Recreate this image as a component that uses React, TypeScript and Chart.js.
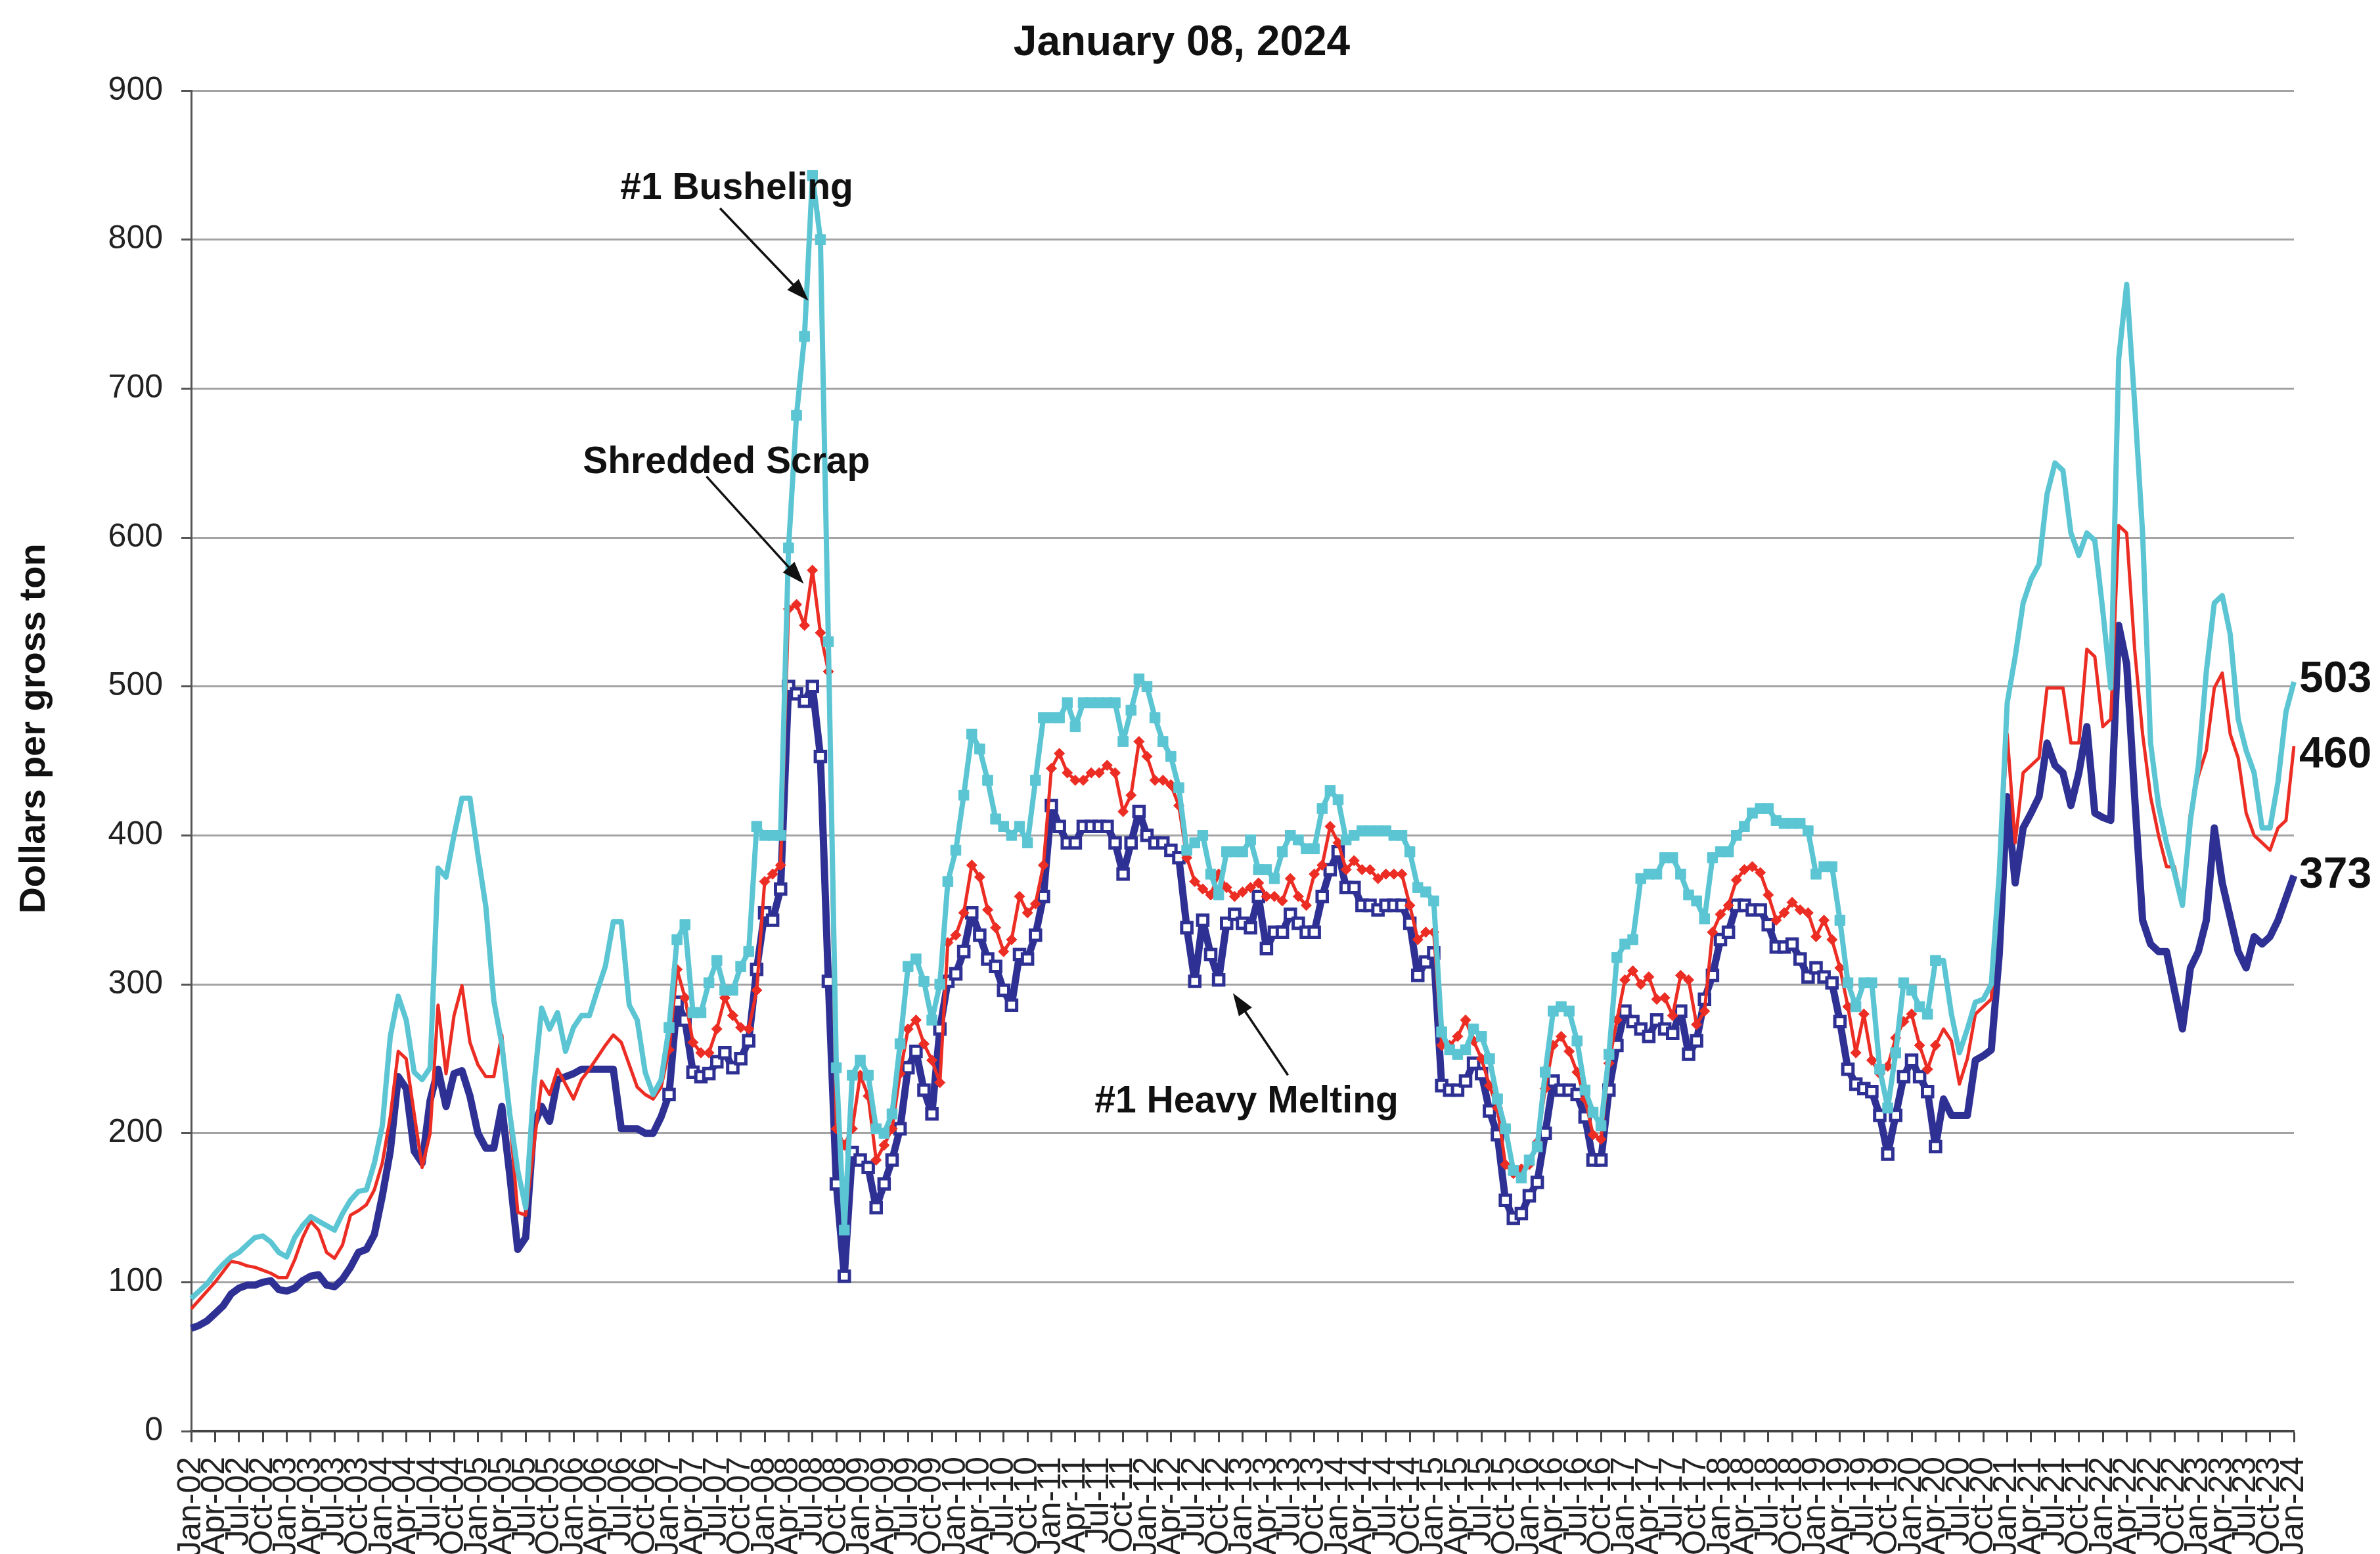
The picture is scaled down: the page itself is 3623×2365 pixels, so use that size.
import React, { useEffect, useRef } from 'react';
import { Chart, registerables } from 'chart.js';

Chart.register(...registerables);

const TITLE = 'January 08, 2024';
const Y_TITLE = 'Dollars per gross ton';
const FONT = '"Liberation Sans", Arial, Helvetica, sans-serif';

const MONTH_NAMES = ['Jan', 'Feb', 'Mar', 'Apr', 'May', 'Jun', 'Jul', 'Aug', 'Sep', 'Oct', 'Nov', 'Dec'];
const YEARS = ['02', '03', '04', '05', '06', '07', '08', '09', '10', '11', '12', '13', '14', '15', '16', '17', '18', '19', '20', '21', '22', '23'];
const LAST_LABEL = 'Jan-24';
const MONTHS: string[] = [];
YEARS.forEach((yy) => MONTH_NAMES.forEach((mm) => MONTHS.push(`${mm}-${yy}`)));
MONTHS.push(LAST_LABEL);

// #1 Heavy Melting, monthly, Jan-02 .. Jan-24
const HEAVY_MELTING = [
  69, 71, 74, 79, 84, 92, 96, 98, 98, 100, 101, 95,
  94, 96, 101, 104, 105, 98, 97, 102, 110, 120, 122, 132,
  158, 188, 238, 230, 188, 180, 222, 243, 218, 240, 242, 225,
  200, 190, 190, 218, 172, 122, 130, 205, 218, 208, 236, 238,
  240, 243, 243, 243, 243, 243, 203, 203, 203, 200, 200, 211,
  226, 288, 276, 241, 238, 240, 248, 254, 244, 250, 262, 310,
  348, 343, 364, 500, 495, 490, 500, 453, 302, 166, 104, 187,
  182, 177, 150, 166, 182, 203, 244, 255, 229, 213, 270, 302,
  307, 322, 348, 333, 317, 312, 296, 286, 320, 317, 333, 359,
  420, 406, 395, 395, 406, 406, 406, 406, 395, 374, 395, 416,
  400, 395, 395, 390, 385, 338, 302, 343, 320, 303, 341, 347,
  341, 338, 359, 324, 335, 335, 347, 341, 335, 335, 359, 377,
  389, 365, 365, 353, 353, 350, 353, 353, 353, 341, 306, 315,
  321, 232, 229, 229, 235, 247, 240, 215, 199, 155, 143, 146,
  158, 167, 200, 235, 229, 229, 226, 211, 182, 182, 229, 259,
  282, 275, 270, 265, 276, 270, 267, 282, 253, 262, 290, 306,
  330, 335, 353, 353, 350, 350, 340, 325, 325, 327, 317, 305,
  311, 305, 301, 275, 243, 233, 230, 228, 212, 186, 212, 238,
  249, 238, 228, 191, 223, 212, 212, 212, 249, 252, 256, 320,
  426, 368, 405, 415, 426, 462, 447, 442, 420, 442, 473, 415,
  412, 410, 541, 515, 426, 343, 327, 322, 322, 296, 270, 311,
  322, 343, 405, 368, 345, 322, 311, 332, 327, 332, 343, 358,
  373,
];

// Shredded Scrap
const SHREDDED = [
  82, 88, 94, 100, 107, 114, 113, 111, 110, 108, 106, 103,
  103, 115, 130, 141, 135, 120, 116, 125, 145, 148, 152, 162,
  180, 211, 255, 250, 213, 177, 200, 286, 240, 279, 299, 261,
  246, 238, 238, 266, 211, 147, 145, 190, 235, 226, 243, 233,
  223, 236, 243, 251, 259, 266, 261, 246, 231, 226, 223, 231,
  256, 310, 291, 261, 254, 254, 270, 291, 279, 271, 270, 296,
  369, 374, 380, 552, 555, 541, 578, 536, 510, 203, 192, 203,
  239, 225, 182, 192, 203, 240, 270, 276, 260, 249, 234, 328,
  333, 348, 380, 372, 350, 338, 322, 330, 359, 348, 354, 380,
  445, 455, 442, 437, 437, 442, 442, 447, 442, 416, 427, 463,
  453, 437, 437, 434, 420, 385, 369, 364, 360, 374, 365, 359,
  362, 365, 368, 359, 359, 356, 371, 359, 353, 374, 380, 406,
  395, 377, 383, 377, 377, 371, 374, 374, 374, 353, 330, 335,
  335, 259, 259, 265, 276, 262, 250, 232, 217, 179, 173, 176,
  179, 194, 230, 259, 265, 255, 241, 223, 199, 196, 247, 276,
  303, 309, 300, 305, 290, 291, 279, 306, 303, 273, 282, 335,
  347, 353, 370, 377, 379, 375, 360, 343, 348, 355, 350, 348,
  332, 343, 330, 311, 285, 254, 280, 249, 240, 245, 264, 275,
  280, 259, 243, 259, 270, 262, 233, 250, 280, 285, 290, 374,
  468, 395, 442, 447, 452, 499, 499, 499, 462, 462, 525, 520,
  473, 478, 608, 603, 525, 468, 426, 400, 379, 379, 353, 415,
  440, 457, 499, 509, 468, 452, 415, 400, 395, 390, 405, 410,
  460,
];

// #1 Busheling
const BUSHELING = [
  89, 94, 99, 106, 112, 117, 120, 125, 130, 131, 127, 120,
  117, 130, 138, 144, 141, 138, 135, 146, 155, 161, 162, 180,
  205, 265, 292, 276, 241, 236, 244, 378, 372, 400, 425, 425,
  387, 352, 289, 260, 213, 175, 150, 230, 284, 270, 281, 255,
  271, 279, 279, 296, 312, 342, 342, 286, 276, 241, 226, 236,
  271, 330, 340, 281, 281, 301, 316, 296, 296, 312, 322, 406,
  400, 400, 400, 593, 682, 735, 843, 800, 530, 244, 135, 239,
  249, 239, 203, 200, 213, 260, 312, 317, 302, 276, 300, 369,
  390, 427, 468, 458, 437, 411, 406, 400, 406, 395, 437, 479,
  479, 479, 489, 473, 489, 489, 489, 489, 489, 463, 484, 505,
  500, 479, 463, 453, 432, 390, 395, 400, 374, 360, 389, 389,
  389, 397, 377, 377, 371, 389, 400, 397, 391, 391, 418, 430,
  424, 397, 400, 403, 403, 403, 403, 400, 400, 389, 365, 362,
  356, 268, 256, 253, 256, 270, 265, 250, 223, 203, 175, 170,
  182, 191, 241, 282, 285, 282, 262, 229, 214, 205, 253, 318,
  327, 330, 371, 374, 374, 385, 385, 374, 360, 356, 344, 385,
  389, 389, 400, 406, 415, 418, 418, 410, 408, 408, 408, 403,
  374, 379, 379, 343, 301, 285, 301, 301, 243, 217, 254, 301,
  296, 285, 280, 316, 316, 280, 254, 270, 288, 290, 300, 374,
  489, 520, 556, 572, 582, 629, 650, 645, 603, 588, 603, 598,
  551, 499, 720, 770, 690, 603, 462, 420, 395, 375, 353, 410,
  447, 510, 556, 561, 535, 478, 457, 442, 405, 405, 436, 483,
  503,
];

const Y_MIN = 0;
const Y_MAX = 900;
const Y_STEP = 100;

// months (index range) drawn with markers
const MARKER_FROM = 60;
const MARKER_TO = 219;

// annotation anchors in data units: [month index, value]
const ANNOTATIONS = [
  { text: '#1 Busheling', at: [68.5, 834], from: [66.4, 821], to: [77.5, 759] },
  { text: 'Shredded Scrap', at: [67.2, 650], from: [64.7, 641], to: [76.9, 569] },
  { text: '#1 Heavy Melting', at: [132.5, 221], from: [137.7, 239], to: [130.8, 294] },
];

const BLUE = '#2E3193';
const RED = '#EC2D24';
const CYAN = '#5BC5D3';

const overlayPlugin = {
  id: 'overlay',
  afterDatasetsDraw(chart: any) {
    const { ctx, chartArea, scales } = chart;
    const xs = scales.x;
    const ys = scales.y;
    ctx.save();
    ctx.fillStyle = '#111';
    ctx.textBaseline = 'middle';

    // title
    ctx.textAlign = 'center';
    ctx.font = `bold 64px ${FONT}`;
    ctx.fillText(TITLE, 1799, 66);

    // y-axis title
    ctx.save();
    ctx.translate(53, 1109);
    ctx.rotate(-Math.PI / 2);
    ctx.font = `bold 56px ${FONT}`;
    ctx.fillText(Y_TITLE, 0, 0);
    ctx.restore();

    // annotations with arrows
    ctx.font = `bold 57px ${FONT}`;
    ANNOTATIONS.forEach((a) => {
      const tx = xs.getPixelForValue(a.at[0]);
      const ty = ys.getPixelForValue(a.at[1]);
      ctx.fillStyle = '#111';
      ctx.fillText(a.text, tx, ty);
      const fx = xs.getPixelForValue(a.from[0]);
      const fy = ys.getPixelForValue(a.from[1]);
      const px = xs.getPixelForValue(a.to[0]);
      const py = ys.getPixelForValue(a.to[1]);
      const ang = Math.atan2(py - fy, px - fx);
      const hl = 34;
      const hw = 12;
      ctx.strokeStyle = '#111';
      ctx.lineWidth = 3.5;
      ctx.beginPath();
      ctx.moveTo(fx, fy);
      ctx.lineTo(px - Math.cos(ang) * hl * 0.8, py - Math.sin(ang) * hl * 0.8);
      ctx.stroke();
      ctx.beginPath();
      ctx.moveTo(px, py);
      ctx.lineTo(px - Math.cos(ang) * hl + Math.sin(ang) * hw, py - Math.sin(ang) * hl - Math.cos(ang) * hw);
      ctx.lineTo(px - Math.cos(ang) * hl - Math.sin(ang) * hw, py - Math.sin(ang) * hl + Math.cos(ang) * hw);
      ctx.closePath();
      ctx.fill();
    });

    // end value labels
    ctx.textAlign = 'left';
    ctx.font = `bold 66px ${FONT}`;
    const ends = [
      { v: BUSHELING[BUSHELING.length - 1], dy: -3 },
      { v: SHREDDED[SHREDDED.length - 1], dy: 14 },
      { v: HEAVY_MELTING[HEAVY_MELTING.length - 1], dy: 0 },
    ];
    ends.forEach((e) => {
      ctx.fillText(String(e.v), chartArea.right + 8, ys.getPixelForValue(e.v) + e.dy);
    });
    ctx.restore();
  },
};

const inRange = (ctx: any) => ctx.dataIndex >= MARKER_FROM && ctx.dataIndex <= MARKER_TO;

export default function App() {
  const ref = useRef<HTMLCanvasElement>(null);

  useEffect(() => {
    if (!ref.current) return;
    const chart = new Chart(ref.current, {
      type: 'line',
      data: {
        labels: MONTHS,
        datasets: [
          {
            label: '#1 Busheling',
            data: BUSHELING,
            borderColor: CYAN,
            borderWidth: 8,
            pointStyle: 'rect',
            pointRadius: (c: any) => (inRange(c) ? 11 : 0),
            pointBackgroundColor: CYAN,
            pointBorderColor: CYAN,
            pointBorderWidth: 1,
            tension: 0,
            order: 0,
            borderJoinStyle: 'round',
          },
          {
            label: 'Shredded Scrap',
            data: SHREDDED,
            borderColor: RED,
            borderWidth: 5,
            pointStyle: 'rectRot',
            pointRadius: (c: any) => (inRange(c) ? 8 : 0),
            pointBackgroundColor: RED,
            pointBorderColor: RED,
            pointBorderWidth: 1,
            tension: 0,
            order: 1,
            borderJoinStyle: 'round',
          },
          {
            label: '#1 Heavy Melting',
            data: HEAVY_MELTING,
            borderColor: BLUE,
            borderWidth: 11,
            pointStyle: 'rect',
            pointRadius: (c: any) => (inRange(c) ? 11 : 0),
            pointBackgroundColor: '#ffffff',
            pointBorderColor: BLUE,
            pointBorderWidth: 5,
            tension: 0,
            order: 2,
            borderJoinStyle: 'round',
          },
        ],
      },
      options: {
        animation: false,
        responsive: true,
        maintainAspectRatio: false,
        devicePixelRatio: 1,
        events: [],
        layout: { padding: { top: 138, right: 131, bottom: 0, left: 0 } },
        plugins: {
          legend: { display: false },
          tooltip: { enabled: false },
          title: { display: false },
        },
        scales: {
          x: {
            type: 'category',
            offset: false,
            grid: {
              drawOnChartArea: false,
              drawTicks: true,
              tickLength: 17,
              tickWidth: 3,
              tickColor: (c: any) => (c.index % 3 === 0 ? '#444' : 'rgba(0,0,0,0)'),
            },
            border: { display: true, color: '#444', width: 4 },
            ticks: {
              autoSkip: false,
              maxRotation: 90,
              minRotation: 90,
              padding: 22,
              color: '#222',
              font: { family: FONT, size: 50 },
              callback: (_v: any, i: number) => (i % 3 === 0 ? MONTHS[i] : ''),
            },
            afterFit: (s: any) => {
              s.height = 187;
            },
          },
          y: {
            min: Y_MIN,
            max: Y_MAX,
            ticks: {
              stepSize: Y_STEP,
              padding: 28,
              color: '#222',
              font: { family: FONT, size: 50 },
            },
            grid: {
              color: '#a3a3a3',
              lineWidth: 3,
              tickLength: 15,
              tickColor: '#555',
            },
            border: { display: true, color: '#555', width: 3 },
            afterFit: (s: any) => {
              s.width = 291;
            },
          },
        },
      },
      plugins: [overlayPlugin],
    } as any);
    return () => chart.destroy();
  }, []);

  return (
    <div style={{ position: 'absolute', left: 0, top: 0, width: 3623, height: 2365, background: '#fff' }}>
      <canvas ref={ref} />
    </div>
  );
}
